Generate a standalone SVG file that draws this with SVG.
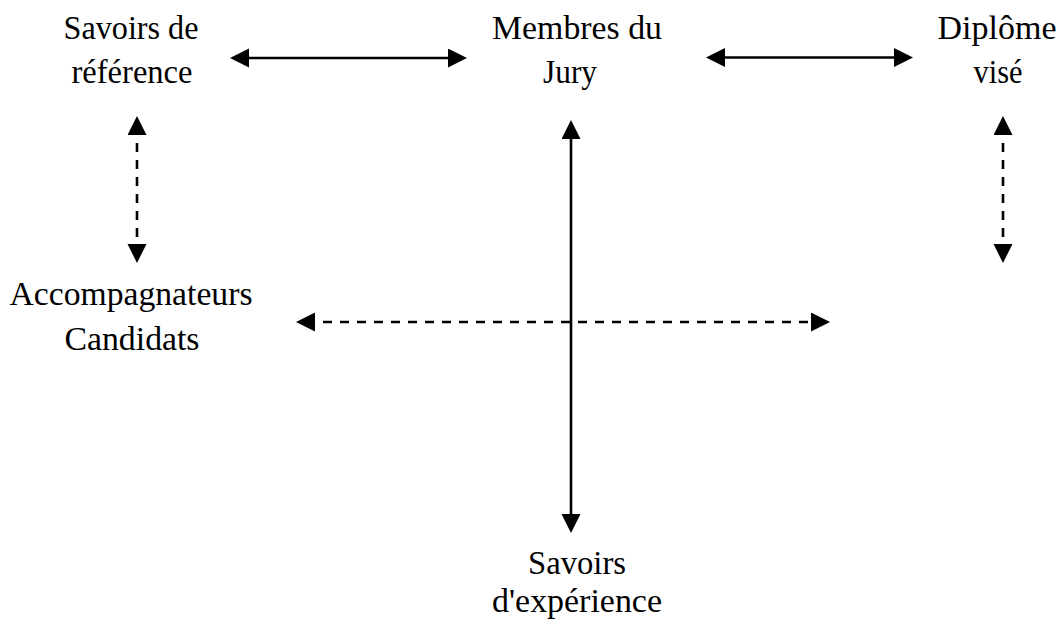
<svg xmlns="http://www.w3.org/2000/svg" width="1060" height="620" viewBox="0 0 1060 620">
  <style>
    .lbl { font-size: 34px; fill: #000; text-anchor: middle; }
    .solid { stroke: #000; stroke-width: 2.6; fill: none; marker-start: url(#ah); marker-end: url(#ah); }
    .dash { stroke: #000; stroke-width: 2.6; fill: none; stroke-dasharray: 9 8; marker-start: url(#ah); marker-end: url(#ah); }
  </style>
  <defs>
    <marker id="ah" markerUnits="userSpaceOnUse" markerWidth="20" markerHeight="20" refX="9" refY="9.5" orient="auto-start-reverse" viewBox="0 0 20 20">
      <path d="M0,0 L19,9.5 L0,19 Z" fill="#000"/>
    </marker>
  </defs>
  <rect width="1060" height="620" fill="#fff"/>

  <g id="connectors">
    <line class="solid" x1="240" y1="58" x2="457" y2="58"/>
    <line class="solid" x1="716" y1="57.5" x2="903" y2="57.5"/>
    <line class="dash" x1="137" y1="126" x2="137" y2="253"/>
    <line class="dash" x1="1003" y1="126" x2="1003" y2="253"/>
    <line class="solid" x1="571" y1="130" x2="571" y2="523"/>
    <line class="dash" x1="306" y1="322" x2="820" y2="322"/>
  </g>

  <g id="savoirs-reference">
    <text class="lbl" style="font-family: Liberation Serif, DejaVu Serif, serif" x="131" y="39" textLength="135" lengthAdjust="spacingAndGlyphs">Savoirs de</text>
    <text class="lbl" style="font-family: Liberation Serif, DejaVu Serif, serif" x="132" y="83" textLength="121" lengthAdjust="spacingAndGlyphs">référence</text>
  </g>
  <g id="membres-jury">
    <text class="lbl" style="font-family: Liberation Serif, DejaVu Serif, serif" x="577" y="39" textLength="170" lengthAdjust="spacingAndGlyphs">Membres du</text>
    <text class="lbl" style="font-family: Liberation Serif, DejaVu Serif, serif" x="570" y="83" textLength="54" lengthAdjust="spacingAndGlyphs">Jury</text>
  </g>
  <g id="diplome-vise">
    <text class="lbl" style="font-family: Liberation Serif, DejaVu Serif, serif" x="997" y="39" textLength="119" lengthAdjust="spacingAndGlyphs">Diplôme</text>
    <text class="lbl" style="font-family: Liberation Serif, DejaVu Serif, serif" x="998" y="83" textLength="49" lengthAdjust="spacingAndGlyphs">visé</text>
  </g>
  <g id="accompagnateurs-candidats">
    <text class="lbl" style="font-family: Liberation Serif, DejaVu Serif, serif" x="131" y="305" textLength="243" lengthAdjust="spacingAndGlyphs">Accompagnateurs</text>
    <text class="lbl" style="font-family: Liberation Serif, DejaVu Serif, serif" x="132" y="350" textLength="135" lengthAdjust="spacingAndGlyphs">Candidats</text>
  </g>
  <g id="savoirs-experience">
    <text class="lbl" style="font-family: Liberation Serif, DejaVu Serif, serif" x="577" y="574" textLength="98" lengthAdjust="spacingAndGlyphs">Savoirs</text>
    <text class="lbl" style="font-family: Liberation Serif, DejaVu Serif, serif" x="577" y="612" textLength="170" lengthAdjust="spacingAndGlyphs">d'expérience</text>
  </g>
</svg>
